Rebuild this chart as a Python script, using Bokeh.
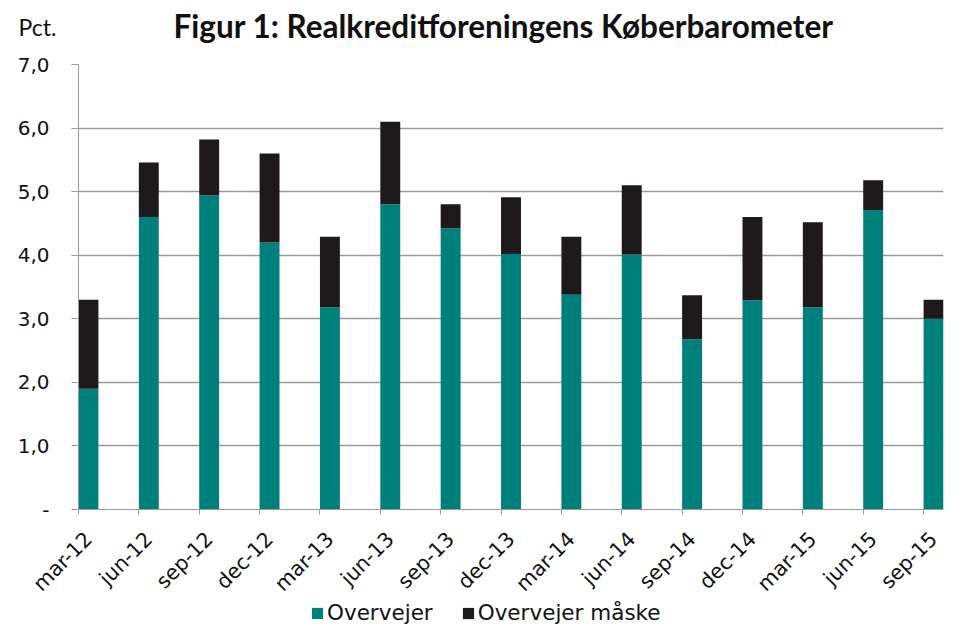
import math
from bokeh.plotting import figure
from bokeh.layouts import column
from bokeh.models import Legend, LegendItem, FixedTicker, ColumnDataSource, Title, LinearAxis
from bokeh.embed import file_html
from bokeh.resources import INLINE

categories = ["mar-12", "jun-12", "sep-12", "dec-12", "mar-13", "jun-13", "sep-13",
              "dec-13", "mar-14", "jun-14", "sep-14", "dec-14", "mar-15", "jun-15", "sep-15"]
overvejer = [1.9, 4.6, 4.94, 4.2, 3.18, 4.8, 4.42, 4.02, 3.38, 4.01, 2.68, 3.29, 3.18, 4.71, 3.0]
overvejer_maaske = [1.4, 0.86, 0.88, 1.4, 1.11, 1.3, 0.38, 0.89, 0.91, 1.09, 0.69, 1.31, 1.34, 0.47, 0.3]
y_ticks = [0, 1, 2, 3, 4, 5, 6, 7]
y_tick_labels = ["-", "1,0", "2,0", "3,0", "4,0", "5,0", "6,0", "7,0"]
series_names = ["Overvejer", "Overvejer måske"]

TEAL = "#00807A"
DARK = "#1E1A1C"
GRID = "#9a9a9a"
TXT = "#111111"

bar_w = 0.33
idx = list(range(len(categories)))
pos = [i + bar_w / 2 for i in idx]
src = ColumnDataSource(dict(x=pos, overvejer=overvejer, maaske=overvejer_maaske))

p = figure(width=952, height=610, output_backend="svg", toolbar_location=None,
           x_range=(0, 14.33), y_range=(0, 7), x_axis_location=None,
           min_border_left=78, min_border_right=9, min_border_top=64, min_border_bottom=101)
p.outline_line_color = None
p.xgrid.grid_line_color = None
p.ygrid.grid_line_color = GRID
p.ygrid.grid_line_width = 1.3
p.ygrid.ticker = FixedTicker(ticks=y_ticks)

p.vbar_stack(["overvejer", "maaske"], x="x", width=bar_w, color=[TEAL, DARK],
             line_color=None, source=src)

# y axis
p.yaxis.ticker = FixedTicker(ticks=y_ticks)
p.yaxis.major_label_overrides = {t: l for t, l in zip(y_ticks, y_tick_labels)}
p.yaxis.axis_line_color = GRID
p.yaxis.major_tick_line_color = GRID
p.yaxis.major_tick_out = 7
p.yaxis.major_tick_in = 0
p.yaxis.minor_tick_line_color = None
p.yaxis.major_label_text_font = "DejaVu Sans"
p.yaxis.major_label_text_font_size = "20px"
p.yaxis.major_label_text_color = TXT
p.yaxis.major_label_standoff = 22

# x axis: tick marks at category starts
xtick_axis = LinearAxis(ticker=FixedTicker(ticks=idx),
                        major_label_overrides={i: "" for i in idx},
                        axis_line_color=GRID, major_tick_line_color=GRID,
                        major_tick_out=5, major_tick_in=0, minor_tick_line_color=None,
                        major_label_text_font_size="1px", major_label_standoff=0)
p.add_layout(xtick_axis, "below")
# x axis: rotated labels
lab_pos = [i + 0.165 for i in idx]
xlab_axis = LinearAxis(ticker=FixedTicker(ticks=lab_pos),
                       major_label_overrides={lp: c for lp, c in zip(lab_pos, categories)},
                       axis_line_color=None, major_tick_line_color=None,
                       minor_tick_line_color=None, major_tick_out=0, major_tick_in=0,
                       major_label_orientation=math.pi / 4,
                       major_label_text_font="DejaVu Sans", major_label_text_font_size="20.5px",
                       major_label_text_color=TXT, major_label_standoff=21)
p.add_layout(xlab_axis, "below")

# header: a blank spacer panel fills the top border; "Pct." and the title sit over it
spacer = Title(text=" ", text_font="Lato", text_font_size="20px", standoff=38)
p.add_layout(spacer, "above")
pct = Title(text="Pct.", align="left", offset=-60, text_font="Lato",
            text_font_style="normal", text_font_size="23px", text_color=TXT, standoff=-80)
p.add_layout(pct, "above")

p.title.text = "Figur 1: Realkreditforeningens Køberbarometer"
p.title.align = "left"
p.title.offset = 95
p.title.text_font = "Lato"
p.title.text_font_style = "bold"
p.title.text_font_size = "31.5px"
p.title.text_color = TXT
p.title.standoff = -89

# legend strip below the chart
lf = figure(width=952, height=36, output_backend="svg", toolbar_location=None,
            x_axis_location=None, y_axis_location=None, min_border=0,
            x_range=(0, 1), y_range=(0, 1), margin=(-10, 0, 0, 0))
lf.outline_line_color = None
lf.background_fill_color = None
lf.border_fill_color = None
lf.xgrid.grid_line_color = None
lf.ygrid.grid_line_color = None
r_a = lf.vbar(x=[0.5], bottom=[0], top=[0], width=0.01, color=TEAL, line_color=None)
r_b = lf.vbar(x=[0.5], bottom=[0], top=[0], width=0.01, color=DARK, line_color=None)
legend = Legend(items=[LegendItem(label=series_names[0], renderers=[r_a]),
                       LegendItem(label=series_names[1], renderers=[r_b])],
                orientation="horizontal", location=(232, 11),
                border_line_color=None, background_fill_alpha=0,
                padding=0, margin=0, spacing=28, label_standoff=3,
                glyph_width=14, glyph_height=14,
                label_text_font="DejaVu Sans", label_text_font_size="21.5px",
                label_text_color=TXT)
lf.add_layout(legend)

layout = column(p, lf, spacing=0)
open("out.html", "w").write(file_html(layout, INLINE))
